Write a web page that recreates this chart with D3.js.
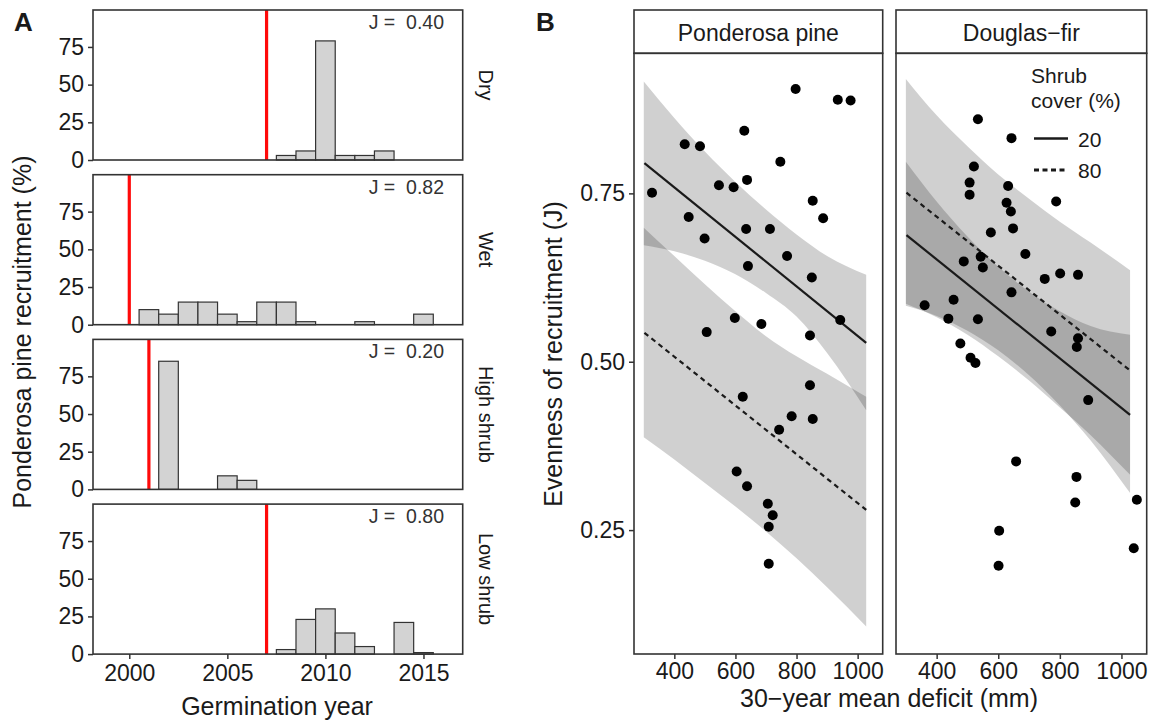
<!DOCTYPE html>
<html>
<head>
<meta charset="utf-8">
<script src="https://cdn.jsdelivr.net/npm/d3@7"></script>
<style>
  body { margin: 0; background: #fff; }
  text { font-family: "Liberation Sans", Arial, sans-serif; fill: #1a1a1a; }
</style>
</head>
<body>
<div id="chart"></div>
<script>
// ---- panel A: recruitment by germination year ----
const facets = ["Dry", "Wet", "High shrub", "Low shrub"];
const dryYears = [2008, 2009, 2010, 2011, 2012, 2013];
const dryPct = [3, 6, 79, 3, 3, 6];
const wetYears = [2001, 2002, 2003, 2004, 2005, 2006, 2007, 2008, 2009, 2012, 2015];
const wetPct = [10, 7, 15, 15, 7, 2, 15, 15, 2, 2, 7];
const highYears = [2002, 2005, 2006];
const highPct = [85, 9, 6];
const lowYears = [2008, 2009, 2010, 2011, 2012, 2014, 2015];
const lowPct = [3, 23, 30, 14, 5, 21, 1];
const fireYear = [2007, 2000, 2001, 2007];
const evennessJ = ["0.40", "0.82", "0.20", "0.80"];
const yearTicks = [2000, 2005, 2010, 2015];
const pctTicks = [0, 25, 50, 75];

// ---- panel B: evenness vs deficit ----
const species = ["Ponderosa pine", "Douglas\u2212fir"];
const ppDeficit = [797, 935, 977, 629, 434, 484, 747, 546, 594, 638, 327, 853, 887, 447, 499, 635, 713, 769,
  641, 850, 943, 598, 685, 506, 844, 844, 624, 784, 853, 743, 604, 638, 706, 722, 709, 709];
const ppJ = [0.905, 0.889, 0.888, 0.843, 0.823, 0.820, 0.797, 0.762, 0.759, 0.770, 0.751, 0.739, 0.713, 0.715,
  0.683, 0.697, 0.697, 0.657, 0.642, 0.625, 0.562, 0.565, 0.556, 0.544, 0.539, 0.465, 0.448, 0.419, 0.415,
  0.399, 0.337, 0.315, 0.289, 0.272, 0.255, 0.200];
const dfDeficit = [534, 643, 521, 507, 507, 632, 627, 641, 788, 648, 576, 688, 543, 488, 550, 751, 801, 859,
  643, 361, 455, 438, 534, 772, 859, 855, 477, 510, 526, 892, 658, 854, 850, 1050, 603, 601, 1040];
const dfJ = [0.860, 0.832, 0.790, 0.766, 0.748, 0.761, 0.736, 0.723, 0.738, 0.698, 0.692, 0.660, 0.656, 0.649,
  0.640, 0.623, 0.631, 0.629, 0.603, 0.584, 0.592, 0.564, 0.563, 0.545, 0.535, 0.522, 0.527, 0.506, 0.498,
  0.443, 0.352, 0.329, 0.291, 0.295, 0.249, 0.197, 0.223];

const fitX = [302, 1028];
const ppFit20 = [0.795, 0.528];
const ppFit80 = [0.543, 0.280];
const dfFit20 = [0.688, 0.421];
const dfFit80 = [0.751, 0.487];

const bandX = [300, 400, 500, 600, 700, 800, 900, 1028];
const ppHi20 = [0.916, 0.862, 0.812, 0.767, 0.726, 0.689, 0.657, 0.629];
const ppLo20 = [0.673, 0.664, 0.650, 0.630, 0.602, 0.567, 0.513, 0.428];
const ppHi80 = [0.699, 0.657, 0.615, 0.575, 0.538, 0.508, 0.482, 0.448];
const ppLo80 = [0.388, 0.355, 0.320, 0.285, 0.248, 0.208, 0.165, 0.107];
const dfHi20 = [0.797, 0.738, 0.686, 0.641, 0.604, 0.575, 0.553, 0.540];
const dfLo20 = [0.583, 0.568, 0.546, 0.517, 0.480, 0.435, 0.383, 0.305];
const dfHi80 = [0.920, 0.866, 0.820, 0.778, 0.742, 0.708, 0.677, 0.636];
const dfLo80 = [0.586, 0.566, 0.540, 0.508, 0.472, 0.432, 0.391, 0.332];

const deficitTicks = [400, 600, 800, 1000];
const evenTicks = [0.25, 0.50, 0.75];
const shrubLevels = ["20", "80"];

const width = 1161;
const height = 723;
const border = "#333";
const tickFont = "23px";
const titleFont = "25px";

const svg = d3.select("#chart")
  .append("svg")
  .attr("width", width)
  .attr("height", height);

svg.append("rect").attr("width", width).attr("height", height).attr("fill", "#fff");

function styleAxis(sel) {
  sel.select(".domain").remove();
  sel.selectAll("line").attr("stroke", "#333").attr("stroke-width", 1.5);
  sel.selectAll("text").style("font-size", tickFont)
    .style("font-family", "Liberation Sans, Arial, sans-serif").attr("fill", "#222");
}

// ================= A =================
svg.append("text").attr("x", 14).attr("y", 31)
  .style("font-size", "26px").style("font-weight", "bold").text("A");

const xA = d3.scaleLinear().domain([1998.15, 2017.0]).range([93, 462.7]);
const facetTop = [10, 174.7, 339.4, 504.1];
const facetH = 150;
const barsA = [
  dryYears.map((y, i) => ({ year: y, pct: dryPct[i] })),
  wetYears.map((y, i) => ({ year: y, pct: wetPct[i] })),
  highYears.map((y, i) => ({ year: y, pct: highPct[i] })),
  lowYears.map((y, i) => ({ year: y, pct: lowPct[i] }))
];

facets.forEach((f, k) => {
  const top = facetTop[k];
  const yA = d3.scaleLinear().domain([0, 99.5]).range([top + facetH, top]);
  const g = svg.append("g");

  g.append("g").attr("fill", "#d3d3d3").attr("stroke", "#333").attr("stroke-width", 1.2)
    .selectAll("rect")
    .data(barsA[k])
    .join("rect")
      .attr("x", d => xA(d.year - 0.5))
      .attr("width", d => xA(d.year + 0.5) - xA(d.year - 0.5))
      .attr("y", d => yA(d.pct))
      .attr("height", d => yA(0) - yA(d.pct));

  g.append("line")
    .attr("x1", xA(fireYear[k])).attr("x2", xA(fireYear[k]))
    .attr("y1", top).attr("y2", top + facetH)
    .attr("stroke", "#ff0a0a").attr("stroke-width", 3.2);

  g.append("text").attr("x", 444).attr("y", top + 19)
    .attr("text-anchor", "end").style("font-size", "19.5px").style("fill", "#333")
    .attr("xml:space", "preserve")
    .text("J =  " + evennessJ[k]);

  const yAxis = g.append("g").attr("transform", `translate(${xA.range()[0]},0)`)
    .call(d3.axisLeft(yA).tickValues(pctTicks).tickSize(5).tickPadding(4));
  styleAxis(yAxis);

  g.append("rect")
    .attr("x", xA.range()[0]).attr("y", top)
    .attr("width", xA.range()[1] - xA.range()[0]).attr("height", facetH)
    .attr("fill", "none").attr("stroke", border).attr("stroke-width", 1.6);

  g.append("text")
    .attr("transform", `translate(479,${top + facetH / 2}) rotate(90)`)
    .attr("text-anchor", "middle").style("font-size", "20px")
    .text(f);
});

const xAxisA = svg.append("g").attr("transform", `translate(0,${facetTop[3] + facetH})`)
  .call(d3.axisBottom(xA).tickValues(yearTicks).tickFormat(d3.format("d")).tickSize(5).tickPadding(6));
styleAxis(xAxisA);

svg.append("text").attr("x", 277).attr("y", 715).attr("text-anchor", "middle")
  .style("font-size", titleFont).text("Germination year");
svg.append("text")
  .attr("transform", `translate(31,332) rotate(-90)`)
  .attr("text-anchor", "middle").style("font-size", titleFont)
  .text("Ponderosa pine recruitment (%)");

// ================= B =================
svg.append("text").attr("x", 536).attr("y", 31)
  .style("font-size", "26px").style("font-weight", "bold").text("B");

const panelX = [[634, 882.7], [896, 1146.7]];
const stripTop = 10, panelTop = 53.3, panelBottom = 654;
const yB = d3.scaleLinear().domain([0.066, 0.958]).range([panelBottom, panelTop]);

const panelsB = [
  { deficit: ppDeficit, J: ppJ, fit20: ppFit20, fit80: ppFit80,
    bands: [[ppLo80, ppHi80], [ppLo20, ppHi20]] },
  { deficit: dfDeficit, J: dfJ, fit20: dfFit20, fit80: dfFit80,
    bands: [[dfLo80, dfHi80], [dfLo20, dfHi20]] }
];

panelsB.forEach((p, k) => {
  const xB = d3.scaleLinear().domain([268, 1082]).range(panelX[k]);
  const g = svg.append("g");
  const x0 = panelX[k][0], x1 = panelX[k][1];

  // strip
  g.append("rect").attr("x", x0).attr("y", stripTop)
    .attr("width", x1 - x0).attr("height", panelTop - stripTop)
    .attr("fill", "#fff").attr("stroke", border).attr("stroke-width", 1.6);
  g.append("text").attr("x", (x0 + x1) / 2).attr("y", 40.5)
    .attr("text-anchor", "middle").style("font-size", "23px").text(species[k]);

  // ribbons
  const area = d3.area()
    .x(d => xB(d.x)).y0(d => yB(d.lo)).y1(d => yB(d.hi))
    .curve(d3.curveMonotoneX);
  p.bands.forEach(([lo, hi]) => {
    g.append("path")
      .datum(bandX.map((x, i) => ({ x, lo: lo[i], hi: hi[i] })))
      .attr("d", area)
      .attr("fill", "#000").attr("fill-opacity", 0.185);
  });

  // fitted lines
  const line = d3.line().x(d => xB(d.x)).y(d => yB(d.y));
  g.append("path")
    .datum(fitX.map((x, i) => ({ x, y: p.fit20[i] })))
    .attr("d", line).attr("fill", "none")
    .attr("stroke", "#1a1a1a").attr("stroke-width", 2.2);
  g.append("path")
    .datum(fitX.map((x, i) => ({ x, y: p.fit80[i] })))
    .attr("d", line).attr("fill", "none")
    .attr("stroke", "#1a1a1a").attr("stroke-width", 2.2).attr("stroke-dasharray", "5,4");

  // points
  g.append("g").attr("fill", "#000")
    .selectAll("circle")
    .data(p.deficit.map((d, i) => ({ x: d, y: p.J[i] })))
    .join("circle")
      .attr("cx", d => xB(d.x))
      .attr("cy", d => yB(d.y))
      .attr("r", 5);

  g.append("rect").attr("x", x0).attr("y", panelTop)
    .attr("width", x1 - x0).attr("height", panelBottom - panelTop)
    .attr("fill", "none").attr("stroke", border).attr("stroke-width", 1.6);

  const xAxisB = g.append("g").attr("transform", `translate(0,${panelBottom})`)
    .call(d3.axisBottom(xB).tickValues(deficitTicks).tickFormat(d3.format("d")).tickSize(5).tickPadding(4));
  styleAxis(xAxisB);

  if (k === 0) {
    const yAxisB = g.append("g").attr("transform", `translate(${x0},0)`)
      .call(d3.axisLeft(yB).tickValues(evenTicks).tickFormat(d3.format(".2f")).tickSize(5).tickPadding(4));
    styleAxis(yAxisB);
  }
});

svg.append("text").attr("x", 889).attr("y", 707).attr("text-anchor", "middle")
  .style("font-size", titleFont).text("30\u2212year mean deficit (mm)");
svg.append("text")
  .attr("transform", `translate(562,354) rotate(-90)`)
  .attr("text-anchor", "middle").style("font-size", titleFont)
  .text("Evenness of recruitment (J)");

// legend
const lg = svg.append("g");
lg.append("text").attr("x", 1031).attr("y", 83).style("font-size", "21px").text("Shrub");
lg.append("text").attr("x", 1031).attr("y", 108).style("font-size", "21px").text("cover (%)");
shrubLevels.forEach((s, i) => {
  const y = 138.5 + i * 31.5;
  lg.append("line").attr("x1", 1034).attr("x2", 1068).attr("y1", y).attr("y2", y)
    .attr("stroke", "#1a1a1a").attr("stroke-width", i === 0 ? 2.4 : 3.2)
    .attr("stroke-dasharray", i === 0 ? null : "5,3.5");
  lg.append("text").attr("x", 1078).attr("y", y + 8).style("font-size", "21px").text(s);
});
</script>
</body>
</html>
